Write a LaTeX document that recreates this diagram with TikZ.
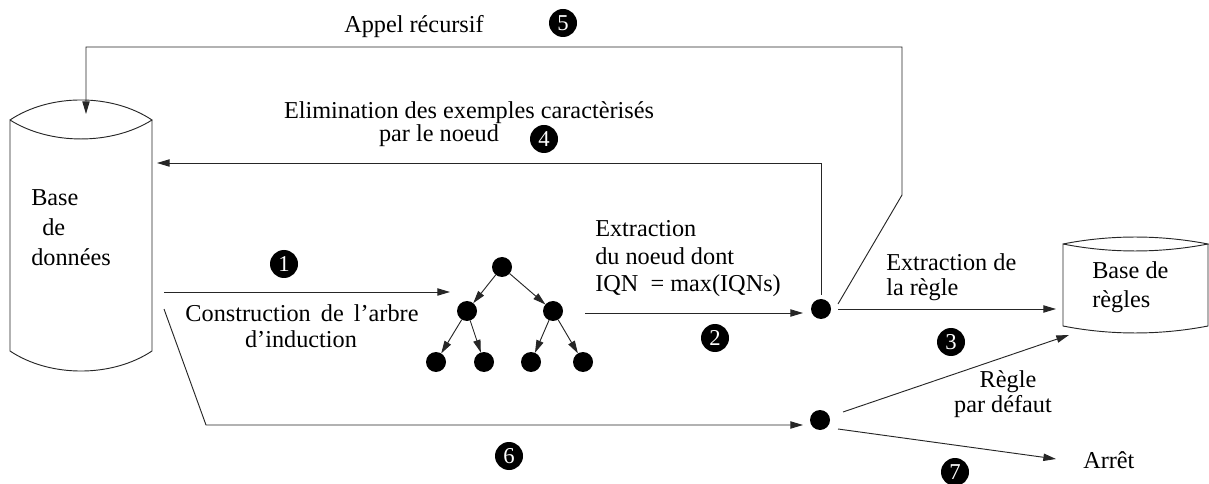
\documentclass[tikz,border=0pt]{standalone}
\usepackage{fontspec}
\setmainfont{Liberation Serif}
\usetikzlibrary{arrows.meta}
\tikzset{
  ln/.style={line width=0.7pt,draw=black!85},
  arr/.style={ln,-{Stealth[inset=0pt,length=9.5pt,width=5.5pt]}},
  dot/.style={circle,fill=black,inner sep=0pt,minimum size=15pt,outer sep=0pt},
  badge/.style={circle,fill=black,text=white,inner sep=0pt,minimum size=21pt,font=\fontsize{17}{17}\selectfont},
  lab/.style={anchor=base west,inner sep=0pt,font=\fontsize{18.2}{18.2}\selectfont},
  labc/.style={anchor=base,inner sep=0pt,font=\fontsize{18.2}{18.2}\selectfont}
}
\begin{document}
\begin{tikzpicture}[x=0.75pt,y=-0.75pt]
\useasboundingbox (0,0) rectangle (1209,484);
% cylinders
\draw[ln] (10,120) .. controls (50,93.3) and (112,93.3) .. (152,120)
  .. controls (112,145.3) and (50,145.3) .. (10,120) -- (10,351)
  .. controls (50,377.7) and (112,377.7) .. (152,351) -- (152,120);
\draw[ln] (1063,244) .. controls (1110,234.7) and (1160,234.7) .. (1208,244)
  .. controls (1160,253.3) and (1110,253.3) .. (1063,244) -- (1063,326)
  .. controls (1110,335.3) and (1160,335.3) .. (1208,326) -- (1208,244);
\node[lab] (t1) at (31,206) {Base};
\node[lab] (t2) at (42,236) {de};
\node[lab] (t3) at (31,266) {données};
\node[lab] (t4) at (1092,279) {Base de};
\node[lab] (t5) at (1092,308) {règles};
% tree
\node[dot] (r) at (502,267) {};
\node[dot] (a) at (467,311) {};
\node[dot] (b) at (553,311) {};
\node[dot] (l1) at (436,362) {};
\node[dot] (l2) at (484,362) {};
\node[dot] (l3) at (531,362) {};
\node[dot] (l4) at (583,362) {};
\foreach \s/\e in {r/a,r/b,a/l1,a/l2,b/l3,b/l4}
  \draw[arr] (\s) -- (\e);
\node[dot] (d1) at (821,309) {};
\node[dot] (d2) at (820,420) {};
% free ends
\coordinate (dbtop) at (86,114);
\coordinate (dbside) at (157,163);
\coordinate (s1) at (164,292);
\coordinate (e1) at (450,292);
\coordinate (s2) at (585,313);
\coordinate (e2) at (803,313);
\coordinate (s6) at (164,309);
\coordinate (e6) at (803,425);
\coordinate (e3) at (1056,309);
\coordinate (er) at (1069,335);
\coordinate (e7) at (1056,459);
\coordinate (s5) at (838,304);
\coordinate (s4) at (821,295);
\coordinate (s3) at (838,309);
\coordinate (sr) at (843,412);
\coordinate (s7) at (838,429);
% connectors
\draw[arr] (s1) -- (e1);
\draw[arr] (s2) -- (e2);
\draw[arr] (s3) -- (e3);
\draw[arr] (s4) -- (821,163) -- (dbside);
\draw[arr] (s5) -- (902,195) -- (902,47) -- (86,47) -- (dbtop);
\draw[arr] (s6) -- (206,425) -- (e6);
\draw[arr] (sr) -- (er);
\draw[arr] (s7) -- (e7);
% badges
\node[badge] (n1) at (284,264) {1};
\node[badge] (n2) at (715,338) {2};
\node[badge] (n3) at (951,342) {3};
\node[badge] (n4) at (544,139) {4};
\node[badge] (n5) at (563,23) {5};
\node[badge] (n6) at (509,456) {6};
\node[badge] (n7) at (955,472) {7};
% labels
\node[labc] (t6) at (414,33) {Appel récursif};
\node[labc] (t7) at (469,119) {Elimination des exemples caractèrisés};
\node[labc] (t8) at (439,142) {par le noeud};
\node[labc] (t9) at (302,321) {Construction\hspace{3pt} de\hspace{3pt} l’arbre};
\node[labc] (t10) at (301,348) {d’induction};
\node[lab] (t11) at (595,237) {Extraction};
\node[lab] (t12) at (595,265) {du noeud dont};
\node[lab] (t13) at (595,292) {IQN\ \ = max(IQNs)};
\node[lab] (t14) at (886,271) {Extraction de};
\node[lab] (t15) at (886,296) {la règle};
\node[labc] (t16) at (1008,387) {Règle};
\node[labc] (t17) at (1003,412) {par défaut};
\node[lab] (t18) at (1083,468) {Arrêt};
\end{tikzpicture}
\end{document}
